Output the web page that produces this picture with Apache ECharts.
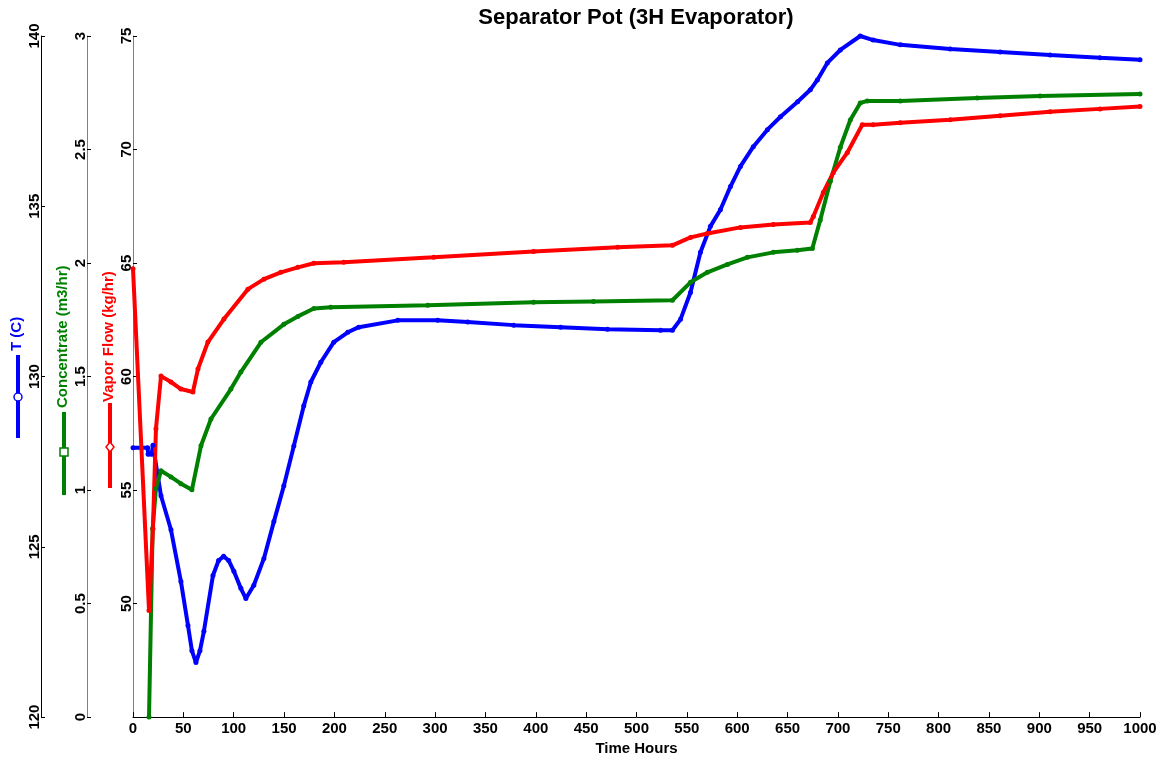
<!DOCTYPE html>
<html>
<head>
<meta charset="utf-8">
<script src="https://cdn.jsdelivr.net/npm/echarts@6/dist/echarts.min.js"></script>
<style>html,body{margin:0;padding:0;background:#fff}#c{width:1167px;height:761px}</style>
</head>
<body>
<div id="c"></div>
<script>
const titleText = 'Separator Pot (3H Evaporator)';
const xName = 'Time Hours';

const tHours = [0, 14.5, 15, 18.5, 19.8, 27.8, 37.7, 47.6, 54.6, 58.5, 62.5, 66.5, 70.4, 79.4, 85, 90, 95, 100.2, 107.1, 112.1, 120.0, 130.0, 139.9, 149.8, 159.7, 169.6, 176.6, 186.5, 199.4, 213.3, 224.2, 262.9, 302.6, 332.3, 378.0, 424.6, 471.2, 523.8, 535.7, 543.7, 553.6, 563.5, 573.4, 583.3, 593.3, 603.2, 616, 630, 643, 660, 672.6, 679.6, 689.5, 702.4, 722.2, 735, 762, 811.5, 861.1, 910.7, 960.3, 1000];
const tValues = [127.91, 127.91, 127.72, 127.72, 127.98, 126.5, 125.5, 123.98, 122.69, 121.95, 121.6, 121.95, 122.52, 124.16, 124.6, 124.72, 124.6, 124.28, 123.78, 123.48, 123.87, 124.66, 125.74, 126.79, 127.96, 129.14, 129.84, 130.42, 131.01, 131.30, 131.45, 131.65, 131.65, 131.60, 131.51, 131.45, 131.39, 131.36, 131.36, 131.68, 132.47, 133.65, 134.41, 134.90, 135.58, 136.17, 136.75, 137.25, 137.63, 138.07, 138.42, 138.71, 139.21, 139.59, 140.0, 139.88, 139.74, 139.62, 139.53, 139.44, 139.36, 139.30];

const concHours = [15.9, 19.5, 22.8, 27.8, 37.7, 47.6, 58.5, 67.5, 77.4, 97.2, 107.1, 127, 149.8, 163.7, 179.6, 196.4, 292.7, 397.8, 457.3, 535.7, 553.6, 570.4, 590.3, 610.1, 635.9, 659.7, 674.6, 682.5, 692.5, 702.4, 712.3, 722.2, 729.2, 761.9, 838.3, 900.8, 1000];
const concValues = [0, 0.83, 1.006, 1.085, 1.058, 1.028, 1.001, 1.195, 1.313, 1.445, 1.52, 1.651, 1.73, 1.765, 1.80, 1.805, 1.814, 1.827, 1.831, 1.836, 1.915, 1.959, 1.994, 2.025, 2.047, 2.056, 2.064, 2.19, 2.36, 2.51, 2.63, 2.705, 2.714, 2.714, 2.727, 2.736, 2.745];

const vapHours = [0, 15.9, 19.8, 22.8, 27.8, 37.7, 47.6, 59.5, 64.5, 74.4, 90.3, 114.1, 130, 146.8, 163.7, 179.6, 209.3, 298.6, 397.8, 481.2, 535.7, 553.6, 570.4, 603.2, 635.9, 672.6, 675.6, 685.5, 695.4, 709.3, 724.2, 735, 761.9, 811.5, 861.1, 910.7, 960.3, 1000];
const vapValues = [64.75, 49.7, 53.3, 57.7, 60.02, 59.76, 59.45, 59.32, 60.33, 61.52, 62.53, 63.85, 64.29, 64.59, 64.81, 64.99, 65.03, 65.25, 65.51, 65.69, 65.78, 66.13, 66.30, 66.57, 66.70, 66.79, 67.05, 68.11, 68.98, 69.86, 71.09, 71.09, 71.18, 71.31, 71.49, 71.66, 71.79, 71.89];

const seriesNames = ['T (C)', 'Concentrate (m3/hr)', 'Vapor Flow (kg/hr)'];

const zip = (xs, ys) => xs.map((x, i) => [x, ys[i]]);
const FONT = '"Liberation Sans", Arial, Helvetica, sans-serif';
const BLUE = '#0000ff', GREEN = '#008000', RED = '#ff0000';

function yAx(min, max, interval, offset, lineColor, showMin) {
  return {
    type: 'value', position: 'left', min, max, interval, offset,
    axisLine: { show: true, lineStyle: { color: lineColor, width: 1 } },
    axisTick: { show: true, inside: true, length: 4, lineStyle: { color: '#000' } },
    splitLine: { show: false },
    axisLabel: { rotate: 90, margin: -1, color: '#000', fontWeight: 'bold', fontSize: 15, fontFamily: FONT, showMinLabel: showMin,
      formatter: v => String(v) }
  };
}

function lineSeries(name, data, color, yIdx) {
  return {
    name, type: 'line', data, yAxisIndex: yIdx, smooth: false,
    symbol: 'circle', symbolSize: 5, showSymbol: true,
    itemStyle: { color }, lineStyle: { color, width: 4 },
    animation: false, clip: false
  };
}

function legendItem(xText, yTextBottom, text, color, xLine, y1, y2, marker, yMarker) {
  const els = [
    { type: 'line', shape: { x1: xLine, y1: y1, x2: xLine, y2: y2 }, style: { stroke: color, lineWidth: 4 } },
    { type: 'text', x: xText, y: yTextBottom, rotation: Math.PI / 2,
      style: { text, fill: color, font: 'bold 15px ' + FONT, align: 'left', verticalAlign: 'middle', textAlign: 'left', textVerticalAlign: 'middle' } }
  ];
  if (marker === 'circle') {
    els.push({ type: 'circle', shape: { cx: xLine, cy: yMarker, r: 4 }, style: { fill: '#fff', stroke: color, lineWidth: 1.5 } });
  } else if (marker === 'rect') {
    els.push({ type: 'rect', shape: { x: xLine - 4, y: yMarker - 4, width: 8, height: 8 }, style: { fill: '#fff', stroke: color, lineWidth: 1.5 } });
  } else {
    els.push({ type: 'polygon', shape: { points: [[xLine, yMarker - 5], [xLine + 4, yMarker], [xLine, yMarker + 5], [xLine - 4, yMarker]] }, style: { fill: '#fff', stroke: color, lineWidth: 1.5 } });
  }
  return els;
}

const chart = echarts.init(document.getElementById('c'), null, { renderer: 'canvas' });
chart.setOption({
  animation: false,
  backgroundColor: '#fff',
  title: { text: titleText, left: 631, top: 2, textAlign: 'center',
    textStyle: { fontSize: 22, fontWeight: 'bold', color: '#000', fontFamily: FONT } },
  grid: { left: 133, right: 27, top: 36, bottom: 42, containLabel: false },
  xAxis: {
    type: 'value', min: 0, max: 1000, interval: 50,
    name: xName, nameLocation: 'middle', nameGap: 21,
    nameTextStyle: { fontWeight: 'bold', fontSize: 15, color: '#000', fontFamily: FONT },
    axisLine: { show: true, onZero: false, lineStyle: { color: '#000', width: 1 } },
    axisTick: { show: true, inside: true, length: 5, lineStyle: { color: '#000' } },
    splitLine: { show: false },
    axisLabel: { margin: 4, color: '#000', fontWeight: 'bold', fontSize: 15, fontFamily: FONT, formatter: v => String(v) }
  },
  yAxis: [
    yAx(45, 75, 5, 0, '#808080', false),
    yAx(0, 3, 0.5, 46, '#808080', true),
    yAx(120, 140, 5, 92, '#000', true)
  ],
  series: [
    lineSeries(seriesNames[0], zip(tHours, tValues), BLUE, 2),
    lineSeries(seriesNames[1], zip(concHours, concValues), GREEN, 1),
    lineSeries(seriesNames[2], zip(vapHours, vapValues), RED, 0)
  ],
  graphic: [].concat(
    legendItem(17, 351, seriesNames[0], BLUE, 18, 355, 438, 'circle', 397),
    legendItem(63, 408, seriesNames[1], GREEN, 64, 412, 495, 'rect', 452),
    legendItem(109, 402, seriesNames[2], RED, 110, 403, 488, 'diamond', 447)
  )
});
</script>
</body>
</html>
